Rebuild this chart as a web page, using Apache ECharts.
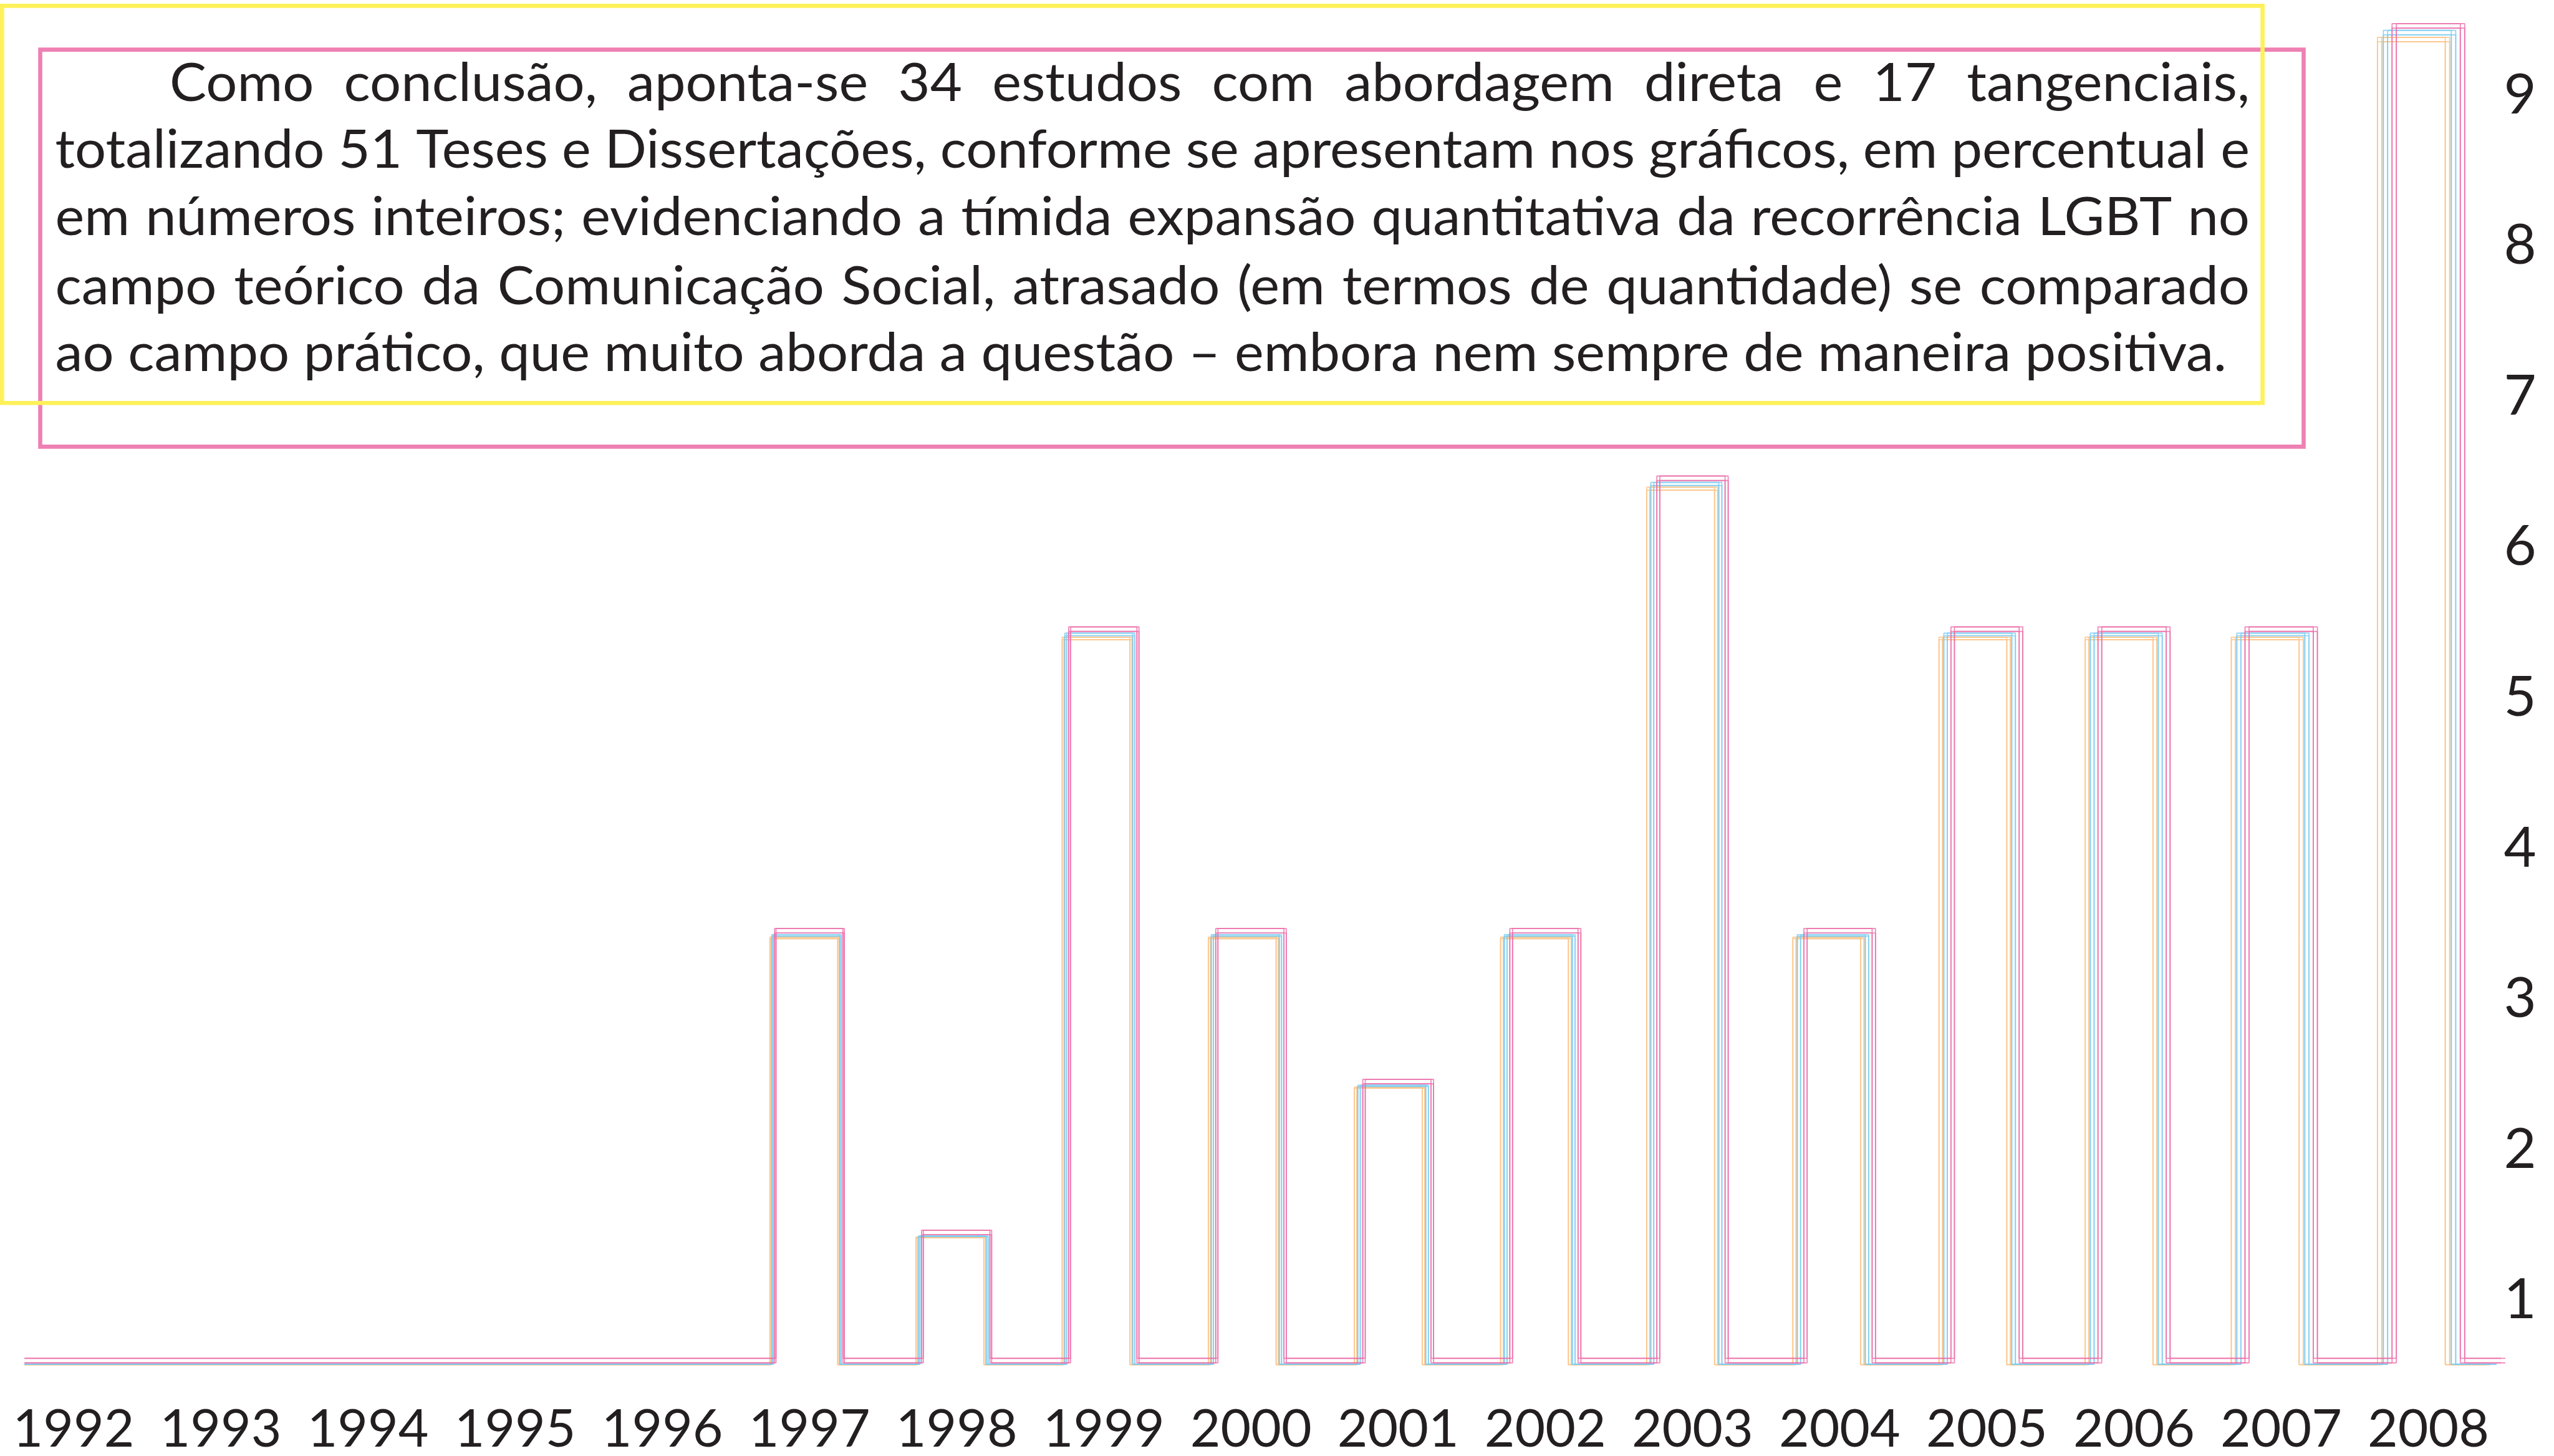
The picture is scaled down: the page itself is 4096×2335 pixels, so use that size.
<!DOCTYPE html>
<html>
<head>
<meta charset="utf-8">
<script src="https://cdn.jsdelivr.net/npm/echarts@6/dist/echarts.min.js"></script>
<style>
  html, body { margin: 0; padding: 0; background: #fff; }
  #chart { width: 4096px; height: 2335px; }
</style>
</head>
<body>
<div id="chart"></div>
<script>
  // dados
  const years = ['1992', '1993', '1994', '1995', '1996', '1997', '1998', '1999', '2000',
                 '2001', '2002', '2003', '2004', '2005', '2006', '2007', '2008'];
  const studies = [0, 0, 0, 0, 0, 3, 1, 5, 3, 2, 3, 6, 3, 5, 5, 5, 9];
  const yLabels = [1, 2, 3, 4, 5, 6, 7, 8, 9];
  const textLines = [
    'Como conclusão, aponta-se 34 estudos com abordagem direta e 17 tangenciais,',
    'totalizando 51 Teses e Dissertações, conforme se apresentam nos gráficos, em percentual e',
    'em números inteiros; evidenciando a tímida expansão quantitativa da recorrência LGBT no',
    'campo teórico da Comunicação Social, atrasado (em termos de quantidade) se comparado',
    'ao campo prático, que muito aborda a questão – embora nem sempre de maneira positiva.'
  ];

  const FONT = 'Lato';
  const INK = '#231f20';

  // layout of the plot area (px)
  const gridLeft = -8, gridTop = 17.3, gridWidth = 4020.5, gridHeight = 2312.2;
  const yMin = -0.46, yMax = 9.1;          // data axis
  const labelShift = 0.46;                 // the tick labels sit a bit below the bar levels
  const HW = 0.232;                        // half width of each step, in years
  const FLOOR = 0.15;                      // drawn baseline sits slightly above zero
  const LINE_START = 1991.666, LINE_END = 2008.75;

  // the outline is repeated in three colours, shifted a few pixels
  const copies = [
    { color: '#fcc386', dx: -24.5, dy: 22.1 },
    { color: '#7ecdf2', dx: -14.6, dy: 10.8 },
    { color: '#eb70aa', dx: 0, dy: 0 }
  ];
  const D = 3.6; // each stroke is drawn as a hollow double line

  function stepPoints(vals) {
    const pts = [[LINE_START, FLOOR]];
    years.forEach((y, i) => {
      const v = vals[i];
      if (!v) return;
      const c = Number(y);
      pts.push([c - HW, FLOOR], [c - HW, v], [c + HW, v], [c + HW, FLOOR]);
    });
    pts.push([LINE_END, FLOOR]);
    return pts;
  }

  const grid = [{ left: gridLeft, top: gridTop, width: gridWidth, height: gridHeight }];
  const xAxis = [{
    type: 'category',
    gridIndex: 0,
    data: years,
    boundaryGap: true,
    axisLine: { show: false },
    axisTick: { show: false },
    splitLine: { show: false },
    axisLabel: {
      interval: 0,
      margin: -34,
      verticalAlign: 'middle',
      fontSize: 84,
      fontFamily: FONT,
      color: INK
    }
  }];
  const yAxis = [{
    type: 'value',
    gridIndex: 0,
    position: 'right',
    min: 0,
    max: yMax + labelShift,
    interval: 1,
    axisLine: { show: false },
    axisTick: { show: false },
    splitLine: { show: false },
    axisLabel: {
      margin: 29,
      align: 'center',
      fontSize: 90,
      fontFamily: FONT,
      color: INK,
      formatter: v => (yLabels.indexOf(v) >= 0 ? String(v) : '')
    }
  }];
  const series = [];
  const pts = stepPoints(studies);
  const shifts = [[-D, -D], [D, D], [-D, D], [D, -D]];
  copies.forEach(cp => {
    shifts.forEach(([sx, sy]) => {
      const gi = grid.length;
      grid.push({
        left: gridLeft + cp.dx + sx,
        top: gridTop + cp.dy + sy,
        width: gridWidth,
        height: gridHeight
      });
      xAxis.push({ type: 'value', gridIndex: gi, min: 1991.5, max: 2008.5, show: false });
      yAxis.push({ type: 'value', gridIndex: gi, min: yMin, max: yMax, show: false });
      series.push({
        type: 'line',
        xAxisIndex: gi,
        yAxisIndex: gi,
        data: pts,
        showSymbol: false,
        symbol: 'none',
        clip: false,
        silent: true,
        lineStyle: { color: cp.color, width: 1.7, opacity: 0.85 }
      });
    });
  });

  // texto do quadro, justificado palavra a palavra
  const FS = 86;
  const TEXT_LEFT = 88.5, TEXT_INDENT = 272, TEXT_RIGHT = 3608, LAST_RIGHT = 3571;
  const baselines = [162, 269.4, 377.3, 488, 595.3];
  const ctx = document.createElement('canvas').getContext('2d');
  ctx.font = FS + 'px ' + FONT;
  ctx.textBaseline = 'middle';
  const midToBase = ctx.measureText('H').actualBoundingBoxDescent;
  const squeeze = (LAST_RIGHT - TEXT_LEFT) / ctx.measureText(textLines[4]).width;

  const graphic = [
    { type: 'rect', shape: { x: 64.5, y: 79.6, width: 3630, height: 636.8 },
      style: { fill: 'none', stroke: '#ee80b3', lineWidth: 6.6 }, z: 1 },
    { type: 'rect', shape: { x: 3.3, y: 9.4, width: 3625.3, height: 636.8 },
      style: { fill: 'none', stroke: '#fff159', lineWidth: 6.6 }, z: 2 }
  ];
  function addWord(text, x, base) {
    graphic.push({
      type: 'text',
      x: x,
      y: base - midToBase,
      scaleX: squeeze,
      z: 3,
      style: { text: text, fill: INK, fontSize: FS, fontFamily: FONT, verticalAlign: 'middle', align: 'left' }
    });
  }
  textLines.forEach((line, li) => {
    const base = baselines[li];
    if (li === textLines.length - 1) {
      addWord(line, TEXT_LEFT, base);
      return;
    }
    const words = line.split(' ');
    const widths = words.map(w => ctx.measureText(w).width * squeeze);
    const left = li === 0 ? TEXT_INDENT : TEXT_LEFT;
    const total = widths.reduce((a, b) => a + b, 0);
    const gap = (TEXT_RIGHT - left - total) / (words.length - 1);
    let x = left;
    words.forEach((w, i) => {
      addWord(w, x, base);
      x += widths[i] + gap;
    });
  });

  const myChart = echarts.init(document.getElementById('chart'));
  myChart.setOption({
    backgroundColor: '#ffffff',
    animation: false,
    grid: grid,
    xAxis: xAxis,
    yAxis: yAxis,
    series: series,
    graphic: graphic
  });
</script>
</body>
</html>
